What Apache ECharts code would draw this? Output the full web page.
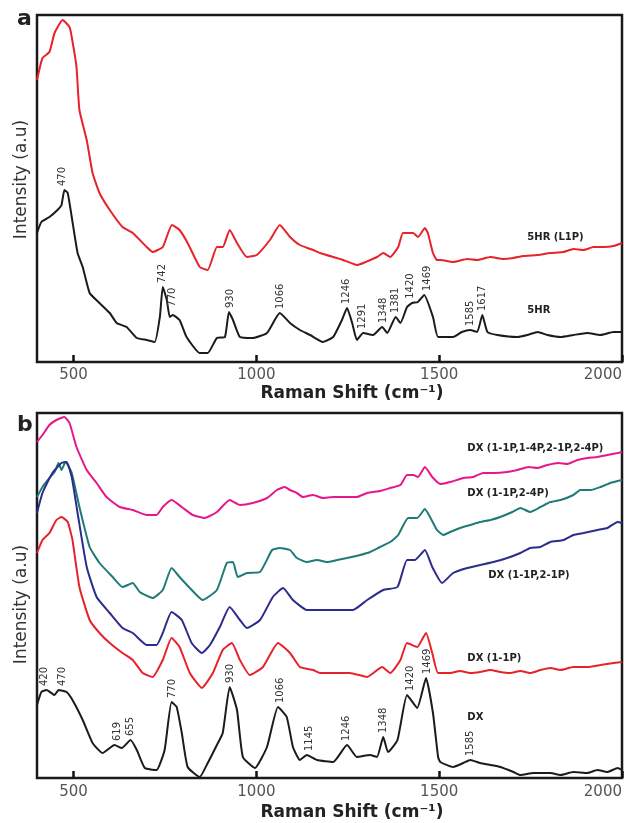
<!DOCTYPE html>
<html>
<head>
<meta charset="utf-8">
<script src="https://cdn.jsdelivr.net/npm/echarts@6/dist/echarts.min.js"></script>
<style>
  html, body { margin: 0; padding: 0; background: #fff; }
  #chart { width: 625px; height: 823px; }
</style>
</head>
<body>
<div id="chart"></div>
<script>
// Raman shift (cm-1) vs intensity (a.u., arbitrary offsets)
const xTicks = [500, 1000, 1500, 2000];

// panel a
const hrL1P = [[400,282],[415,304],[434,310],[448,329],[470,342],[489,335],[495,325],[508,295],[516,252],[536,222],[552,189],[571,169],[599,152],[634,135],[662,129],[700,115],[716,110],[744,115],[769,137],[790,132],[812,119],[845,95],[867,92],[892,115],[908,115],[927,132],[947,119],[974,105],[1001,107],[1037,122],[1064,137],[1092,125],[1119,117],[1155,112],[1174,109],[1237,102],[1275,97],[1330,105],[1347,109],[1366,105],[1388,115],[1401,129],[1429,129],[1442,125],[1461,134],[1469,129],[1483,109],[1494,102],[1503,102],[1538,100],[1577,103],[1604,102],[1640,105],[1675,103],[1703,104],[1730,106],[1769,107],[1804,109],[1840,110],[1867,113],[1895,112],[1922,115],[1950,115],[1977,116],[2000,119]];
const hr = [[400,129],[412,140],[434,145],[456,152],[467,157],[475,172],[484,169],[495,145],[511,109],[525,95],[544,69],[571,59],[599,49],[618,39],[645,35],[673,24],[700,22],[722,20],[736,45],[744,75],[755,62],[763,45],[771,47],[790,42],[809,25],[845,9],[867,9],[892,24],[914,25],[925,50],[936,42],[955,25],[990,24],[1029,29],[1064,49],[1092,39],[1119,32],[1147,27],[1182,20],[1210,25],[1234,42],[1248,54],[1262,39],[1275,22],[1292,29],[1319,27],[1344,35],[1358,29],[1381,45],[1394,39],[1412,55],[1426,59],[1442,60],[1459,67],[1483,45],[1497,25],[1538,25],[1562,30],[1585,32],[1604,30],[1618,47],[1632,30],[1659,27],[1714,25],[1741,27],[1769,30],[1796,27],[1832,25],[1867,27],[1905,29],[1941,27],[1977,30],[2000,30]];
const peaksA = [470, 742, 770, 930, 1066, 1246, 1291, 1348, 1381, 1420, 1469, 1585, 1617];

// panel b
const dxAll = [[400,336],[415,343],[434,353],[453,358],[475,361],[489,355],[508,331],[536,308],[563,295],[590,281],[626,271],[662,268],[700,263],[727,263],[744,271],[768,278],[796,271],[826,263],[859,260],[892,266],[927,278],[955,273],[990,275],[1029,280],[1056,288],[1078,291],[1092,288],[1111,285],[1127,281],[1155,283],[1182,280],[1210,281],[1248,281],[1275,281],[1303,285],[1338,287],[1366,290],[1394,293],[1412,303],[1429,303],[1442,301],[1461,311],[1481,301],[1503,294],[1530,296],[1566,300],[1593,301],[1620,305],[1648,305],[1686,306],[1714,308],[1744,311],[1769,310],[1796,313],[1826,315],[1851,314],[1878,318],[1905,320],[1933,321],[1960,323],[1988,325],[2000,326]];
const dx24 = [[400,281],[415,291],[434,300],[448,306],[459,315],[467,308],[478,316],[495,305],[516,271],[544,231],[571,215],[607,201],[634,191],[662,195],[681,186],[716,180],[744,188],[768,210],[790,201],[818,190],[853,178],[892,188],[919,215],[936,216],[949,201],[974,205],[1010,206],[1043,228],[1064,230],[1092,228],[1111,220],[1138,216],[1166,218],[1193,216],[1221,218],[1248,220],[1284,223],[1311,226],[1338,231],[1366,236],[1388,243],[1415,260],[1440,260],[1461,269],[1475,261],[1494,248],[1511,243],[1530,246],[1557,250],[1585,253],[1612,256],[1640,258],[1667,261],[1700,266],[1722,270],[1749,266],[1777,271],[1804,276],[1832,278],[1867,283],[1886,288],[1914,288],[1941,291],[1968,295],[2000,298]];
const dx21 = [[400,265],[415,285],[442,305],[467,315],[481,316],[495,301],[511,265],[536,211],[563,181],[599,165],[634,150],[662,145],[700,133],[727,133],[744,145],[768,166],[796,158],[823,135],[851,125],[873,133],[900,151],[927,171],[955,158],[974,150],[1010,158],[1045,181],[1073,190],[1100,178],[1138,168],[1174,168],[1264,168],[1303,178],[1347,188],[1386,191],[1412,218],[1434,218],[1461,228],[1481,211],[1508,195],[1538,205],[1577,210],[1612,213],[1648,216],[1686,220],[1722,225],[1749,230],[1777,231],[1804,236],[1840,238],[1867,243],[1895,245],[1933,248],[1960,250],[1988,256],[2000,255]];
const dx11 = [[400,225],[415,238],[434,245],[453,258],[467,261],[484,256],[497,238],[516,191],[544,158],[571,145],[599,135],[634,125],[662,118],[689,105],[716,101],[744,118],[768,140],[790,131],[818,105],[851,90],[881,105],[908,128],[933,135],[955,118],[982,103],[1018,111],[1059,135],[1092,125],[1119,111],[1155,108],[1174,105],[1256,105],[1303,101],[1344,111],[1366,105],[1394,118],[1412,135],[1440,131],[1464,145],[1481,125],[1497,105],[1530,105],[1557,107],[1585,105],[1612,106],[1640,108],[1667,106],[1694,105],[1722,107],[1749,105],[1777,108],[1804,110],[1832,108],[1867,111],[1905,111],[1941,113],[1977,115],[2000,116]];
const dx = [[400,73],[412,86],[426,88],[448,83],[459,88],[481,86],[497,78],[525,58],[552,35],[579,25],[612,33],[632,30],[656,38],[673,28],[695,10],[727,8],[749,28],[768,76],[782,71],[796,45],[812,11],[845,1],[867,15],[892,33],[908,45],[927,91],[947,68],[963,21],[996,10],[1029,31],[1059,71],[1083,61],[1100,31],[1119,18],[1138,23],[1166,18],[1210,16],[1248,33],[1275,21],[1311,23],[1330,21],[1347,41],[1360,26],[1386,38],[1412,83],[1440,70],[1464,100],[1483,65],[1497,21],[1503,16],[1538,11],[1566,15],[1585,18],[1612,15],[1640,13],[1667,11],[1703,6],[1722,3],[1758,5],[1804,5],[1832,3],[1867,6],[1905,5],[1933,8],[1960,6],[1988,10],[2000,8]];
const peaksB = [420, 470, 619, 655, 770, 930, 1066, 1145, 1246, 1348, 1420, 1469, 1585];

// height of a curve near x (for placing peak numbers)
function interp(data, x) {
  for (let i = 1; i < data.length; i++) {
    if (data[i][0] >= x) {
      const a = data[i - 1], b = data[i];
      return a[1] + (b[1] - a[1]) * (x - a[0]) / (b[0] - a[0]);
    }
  }
  return data[data.length - 1][1];
}
function peakHeight(data, x) {
  let m = -Infinity;
  for (let t = x - 10; t <= x + 10; t++) m = Math.max(m, interp(data, Math.max(400, Math.min(2000, t))));
  return m;
}

const font = 'DejaVu Sans';
const peakLabel = {
  show: true, rotate: 90, position: 'top', distance: 4,
  align: 'left', verticalAlign: 'middle',
  fontFamily: font, fontSize: 10, color: '#333',
  formatter: p => p.value
};
const nameLabel = {
  show: true, position: 'right', distance: 0,
  fontFamily: font, fontWeight: 'bold', fontSize: 10, color: '#222',
  formatter: p => p.value
};

function marks(data, peaks, name, at) {
  const list = peaks.map(p => ({ coord: [p, peakHeight(data, p)], value: p, label: peakLabel }));
  list.push({ coord: at, value: name, label: nameLabel });
  return { symbol: 'circle', symbolSize: 0, silent: true, data: list };
}

function line(name, data, color, idx, markPoint) {
  return {
    name, type: 'line', data, xAxisIndex: idx, yAxisIndex: idx,
    symbol: 'none', smooth: 0.15,
    lineStyle: { color, width: 2 },
    markPoint
  };
}

function xAxis(idx, gap, margin) {
  return {
    type: 'value', gridIndex: idx, min: 400, max: 2000,
    name: 'Raman Shift (cm⁻¹)', nameLocation: 'middle', nameGap: gap,
    nameTextStyle: { fontFamily: font, fontWeight: 'bold', fontSize: 17, color: '#222', padding: [0, 0, 0, 45] },
    axisLine: { show: false },
    axisTick: { show: true, inside: true, length: 7, customValues: xTicks, lineStyle: { color: '#111', width: 2.5 } },
    axisLabel: { customValues: xTicks, margin, fontFamily: font, fontSize: 15, color: '#555', alignMaxLabel: 'right', formatter: v => String(v) },
    splitLine: { show: false }
  };
}
function yAxis(idx, max, pad) {
  return {
    type: 'value', gridIndex: idx, min: 0, max,
    name: 'Intensity (a.u)', nameLocation: 'middle', nameGap: 7,
    nameTextStyle: { fontFamily: font, fontSize: 17, color: '#333', padding: pad },
    axisLine: { show: false }, axisTick: { show: false },
    axisLabel: { show: false }, splitLine: { show: false }
  };
}

const chart = echarts.init(document.getElementById('chart'));
chart.setOption({
  animation: false,
  backgroundColor: '#fff',
  title: [
    { text: 'a', left: 17, top: 8, padding: 0, textStyle: { fontFamily: font, fontWeight: 'bold', fontSize: 22, color: '#222' } },
    { text: 'b', left: 17, top: 414, padding: 0, textStyle: { fontFamily: font, fontWeight: 'bold', fontSize: 22, color: '#222' } }
  ],
  grid: [
    { left: 37, right: 3, top: 15, height: 347, show: true, borderColor: '#1a1a1a', borderWidth: 2.5 },
    { left: 37, right: 3, top: 413, height: 365, show: true, borderColor: '#1a1a1a', borderWidth: 2.5 }
  ],
  xAxis: [xAxis(0, 23, 6), xAxis(1, 26, 7)],
  yAxis: [yAxis(0, 347, [0, 0, 0, 18]), yAxis(1, 365, [0, 18, 0, 0])],
  series: [
    line('5HR (L1P)', hrL1P, '#e8222a', 0, marks(hrL1P, [], '5HR (L1P)', [1741, 125])),
    line('5HR', hr, '#1b1b1b', 0, marks(hr, peaksA, '5HR', [1741, 52])),
    line('DX (1-1P,1-4P,2-1P,2-4P)', dxAll, '#e6178b', 1, marks(dxAll, [], 'DX (1-1P,1-4P,2-1P,2-4P)', [1577, 330])),
    line('DX (1-1P,2-4P)', dx24, '#1f7a78', 1, marks(dx24, [], 'DX (1-1P,2-4P)', [1577, 285])),
    line('DX (1-1P,2-1P)', dx21, '#2c2c8c', 1, marks(dx21, [], 'DX (1-1P,2-1P)', [1634, 203])),
    line('DX (1-1P)', dx11, '#e8222a', 1, marks(dx11, [], 'DX (1-1P)', [1577, 120])),
    line('DX', dx, '#1b1b1b', 1, marks(dx, peaksB, 'DX', [1577, 61]))
  ]
});
</script>
</body>
</html>
